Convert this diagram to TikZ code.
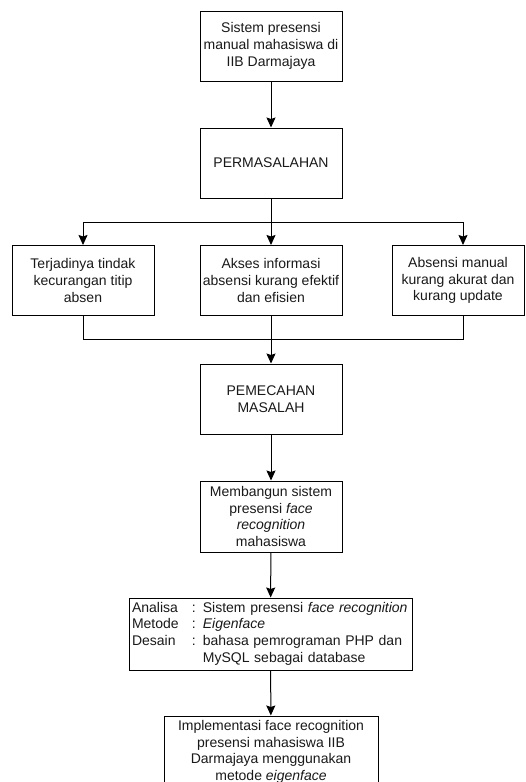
\documentclass[tikz,border=0pt]{standalone}
\usepackage{fontspec}
\setmainfont{Liberation Sans}
\usetikzlibrary{arrows.meta}
\begin{document}
\begin{tikzpicture}[x=1pt,y=-1pt,
  box/.style={draw, line width=1pt, align=center, inner sep=2pt,
    minimum width=142pt, minimum height=70pt,
    font=\fontsize{14}{16.7}\selectfont, text=black!90},
  arr/.style={line width=1pt, -{Stealth[length=10pt,width=9pt,inset=1.5pt]}},
  ln/.style={line width=1pt}]
\useasboundingbox (0,0) rectangle (525,782);
\node[box] (b1) at (271,46) {Sistem presensi\\manual mahasiswa di\\IIB Darmajaya};
\node[box] (b2) at (271,163) {PERMASALAHAN};
\node[box] (p1) at (83,280.5) {Terjadinya tindak\\kecurangan titip\\absen};
\node[box] (p2) at (271,280.5) {Akses informasi\\absensi kurang efektif\\dan efisien};
\node[box, minimum width=132pt] (p3) at (458,280.5) {Absensi manual\\kurang akurat dan\\kurang update};
\node[box] (b4) at (271,399) {PEMECAHAN\\MASALAH};
\node[box, minimum height=71pt] (b5) at (271,516.5) {Membangun sistem\\presensi \textit{face}\\\textit{recognition}\\mahasiswa};
\node[box, minimum width=283pt, minimum height=72pt, align=left, text width=277pt, inner xsep=3pt] (b6) at (270.5,634)
  {\renewcommand{\arraystretch}{1}\begin{tabular}{@{}p{60pt}@{}l@{}}
   Analisa & : Sistem presensi \textit{face recognition}\\
   Metode & : \textit{Eigenface}\\
   Desain & : bahasa pemrograman PHP dan\\
          & \phantom{: }MySQL sebagai database
   \end{tabular}};
\node[box, minimum width=214pt, minimum height=72pt] (b7) at (271,752) {Implementasi face recognition\\presensi mahasiswa IIB\\Darmajaya menggunakan\\metode \textit{eigenface}};
\coordinate (tl) at (83,222);
\coordinate (tr) at (463,222);
\coordinate (bl) at (83,339);
\coordinate (br) at (463,339);
\draw[arr] (b1) -- (b2);
\draw[ln] (b2.south) -- (b2.south |- tl);
\draw[ln] (tl) -- (tr);
\draw[arr] (tl) -- (p1.north);
\draw[arr] (b2.south |- tl) -- (p2.north);
\draw[arr] (tr) -- (tr |- p3.north);
\draw[ln] (p1.south) -- (bl) -- (br) -- (br |- p3.south);
\draw[arr] (p2) -- (b4);
\draw[arr] (b4) -- (b5);
\draw[arr] (b5) -- (b6);
\draw[arr] (b6) -- (b7);
\end{tikzpicture}
\end{document}
